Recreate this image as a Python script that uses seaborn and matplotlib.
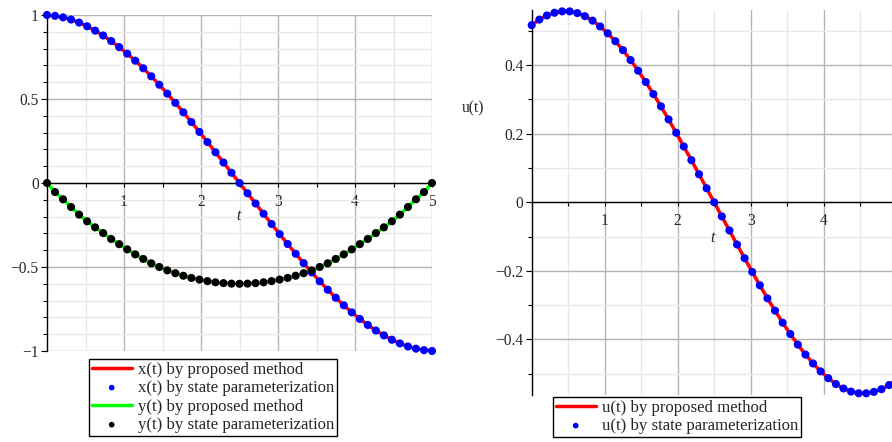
import numpy as np
import matplotlib
matplotlib.use("Agg")
import matplotlib.pyplot as plt
import matplotlib.ticker as mticker
import seaborn as sns

# time grid: 49 samples on [0, 5]
t = np.linspace(0, 5, 49)

# values (line and dots coincide)
x_vals = [1.000, 0.995, 0.986, 0.973, 0.955, 0.933, 0.907, 0.878, 0.845, 0.809,
          0.770, 0.728, 0.683, 0.635, 0.585, 0.532, 0.477, 0.421, 0.363, 0.304,
          0.244, 0.183, 0.122, 0.061, 0.000, -0.061, -0.122, -0.183, -0.244, -0.304,
          -0.363, -0.421, -0.477, -0.532, -0.585, -0.635, -0.683, -0.728, -0.770, -0.809,
          -0.845, -0.878, -0.907, -0.933, -0.955, -0.973, -0.986, -0.995, -1.000]
y_vals = [0.000, -0.054, -0.097, -0.143, -0.188, -0.228, -0.264, -0.298, -0.333, -0.364,
          -0.395, -0.425, -0.452, -0.478, -0.500, -0.520, -0.537, -0.552, -0.565, -0.575,
          -0.584, -0.591, -0.596, -0.599, -0.600, -0.599, -0.596, -0.591, -0.584, -0.575,
          -0.565, -0.552, -0.537, -0.520, -0.500, -0.478, -0.452, -0.425, -0.395, -0.364,
          -0.333, -0.298, -0.264, -0.228, -0.188, -0.143, -0.097, -0.054, 0.000]
u_vals = [0.517, 0.533, 0.545, 0.553, 0.557, 0.557, 0.552, 0.543, 0.530, 0.513,
          0.493, 0.470, 0.444, 0.415, 0.384, 0.351, 0.316, 0.280, 0.242, 0.203,
          0.163, 0.123, 0.082, 0.041, 0.000, -0.041, -0.082, -0.123, -0.163, -0.203,
          -0.242, -0.280, -0.316, -0.351, -0.384, -0.415, -0.444, -0.470, -0.493, -0.513,
          -0.530, -0.543, -0.552, -0.557, -0.557, -0.553, -0.545, -0.533, -0.517]

left_labels = ["x(t) by proposed method", "x(t) by state parameterization",
               "y(t) by proposed method", "y(t) by state parameterization"]
right_labels = ["u(t) by proposed method", "u(t) by state parameterization"]

sns.set_style("white")
plt.rcParams["font.family"] = ["Liberation Serif", "DejaVu Serif"]
plt.rcParams["axes.unicode_minus"] = True

W, H = 892, 442
fig = plt.figure(figsize=(W / 100, H / 100), dpi=100)

ax1 = fig.add_axes([47 / W, (H - 351) / H, 385 / W, 336 / H])
ax2 = fig.add_axes([531.7 / W, (H - 395) / H, 365 / W, 385 / H])


def fmt(v, pos):
    s = "%g" % round(v, 6)
    return s.replace("-", "\u2212")


def style_axes(ax, ymajor, yminor):
    ax.set_xlim(0, 5)
    ax.xaxis.set_major_locator(mticker.FixedLocator([1, 2, 3, 4, 5]))
    ax.xaxis.set_minor_locator(mticker.MultipleLocator(0.5))
    ax.yaxis.set_major_locator(mticker.MultipleLocator(ymajor))
    ax.yaxis.set_minor_locator(mticker.MultipleLocator(yminor))
    ax.xaxis.set_major_formatter(mticker.FuncFormatter(fmt))
    ax.yaxis.set_major_formatter(mticker.FuncFormatter(fmt))
    ax.grid(which="major", color="#b4b4b4", lw=1.0, zorder=0)
    ax.grid(which="minor", color="#e8e8e8", lw=1.0, zorder=0)
    ax.set_axisbelow(True)
    for s in ["top", "right"]:
        ax.spines[s].set_visible(False)
    ax.spines["bottom"].set_position(("data", 0))
    ax.spines["left"].set_position(("data", 0))
    for s in ["bottom", "left"]:
        ax.spines[s].set_color("black")
        ax.spines[s].set_linewidth(1.0)
        ax.spines[s].set_zorder(1.5)
    ax.tick_params(which="both", direction="out", color="black", width=0.8,
                   labelsize=11.2, bottom=True, left=True)
    ax.tick_params(axis="y", which="major", length=4, pad=2)
    ax.tick_params(axis="y", which="minor", length=3)
    ax.tick_params(axis="x", which="major", length=3, pad=5)
    ax.tick_params(axis="x", which="minor", length=3)
    ax.set_xlabel("")
    ax.set_ylabel("")


# left panel
sns.lineplot(x=t, y=x_vals, ax=ax1, color="#ff0000", lw=2.5, label=left_labels[0],
             zorder=2)
sns.scatterplot(x=t, y=x_vals, ax=ax1, color="#0000ff", s=34, edgecolor="none",
                label=left_labels[1], zorder=3)
sns.lineplot(x=t, y=y_vals, ax=ax1, color="#00ff00", lw=2.5, label=left_labels[2],
             zorder=2)
sns.scatterplot(x=t, y=y_vals, ax=ax1, color="black", s=34, edgecolor="none",
                label=left_labels[3], zorder=3)
ax1.set_ylim(-1, 1)
style_axes(ax1, 0.5, 0.1)

# right panel
sns.lineplot(x=t, y=u_vals, ax=ax2, color="#ff0000", lw=2.5, label=right_labels[0],
             zorder=2)
sns.scatterplot(x=t, y=u_vals, ax=ax2, color="#0000ff", s=34, edgecolor="none",
                label=right_labels[1], zorder=3)
ax2.set_ylim(-0.562, 0.561)
style_axes(ax2, 0.2, 0.1)

for ax in (ax1, ax2):
    for c in ax.collections:
        c.set_clip_on(False)

ax1.annotate("t", xy=(2.5, 0), xytext=(-1, -33), textcoords="offset pixels",
             ha="center", va="center", fontsize=11.2, style="italic")
ax2.annotate("t", xy=(2.5, 0), xytext=(-2, -36), textcoords="offset pixels",
             ha="center", va="center", fontsize=11.2, style="italic")
fig.text(473 / W, 1 - 108 / H, "u(t)", ha="center", va="center", fontsize=11.2)

leg_kw = dict(loc="upper left", bbox_transform=fig.transFigure, fontsize=12.1,
              frameon=True, fancybox=False, edgecolor="black", framealpha=1,
              borderpad=0.15, labelspacing=0.15, handlelength=2.4,
              handletextpad=0.35, borderaxespad=0, markerscale=0.7)
lg1 = ax1.legend(bbox_to_anchor=(89 / W, 1 - 359 / H), **leg_kw)
lg2 = ax2.legend(bbox_to_anchor=(553 / W, 1 - 397 / H), **leg_kw)
for lg in (lg1, lg2):
    lg.get_frame().set_linewidth(1.0)

fig.savefig("out.png", dpi=100)
